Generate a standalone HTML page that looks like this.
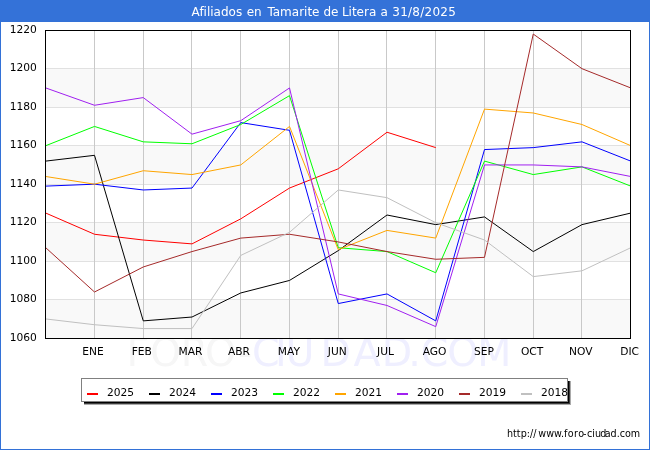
<!DOCTYPE html>
<html lang="es"><head><meta charset="utf-8"><title>Afiliados en Tamarite de Litera a 31/8/2025</title>
<style>
html,body{margin:0;padding:0;background:#fff;}
body{width:650px;height:450px;overflow:hidden;}
svg{display:block;will-change:transform;}
text{font-family:"DejaVu Sans","Liberation Sans",sans-serif;}
</style></head><body>
<svg width="650" height="450" viewBox="0 0 650 450">
<rect x="0" y="0" width="650" height="450" fill="#3371d7"/>
<rect x="1" y="22" width="648" height="427" fill="#ffffff"/>
<rect x="0" y="0" width="650" height="21" fill="#3472d8"/>
<text y="16" font-size="12" fill="#ffffff"><tspan x="191.6">Afiliados</tspan> <tspan x="246.7">en</tspan> <tspan x="267.4">Tamarite</tspan> <tspan x="323.5">de</tspan> <tspan x="341.9">Litera</tspan> <tspan x="380.6">a</tspan> <tspan x="392.3" textLength="63.5">31/8/2025</tspan></text>
<text y="365.5" font-size="39.5" fill="#f6f6f6" x="126.4 150.1 180.7 205 238 252.1 275.1 285.4 320.4 353.5 381.8 408.3 420.8 447.2 477.3">FORO-<tspan fill="#efefff">CIUDAD.COM</tspan></text>
<rect x="45" y="30" width="586" height="309" fill="#ffffff"/>
<rect x="46" y="69" width="585" height="38" fill="#f9f9f9"/>
<rect x="46" y="146" width="585" height="38" fill="#f9f9f9"/>
<rect x="46" y="223" width="585" height="38" fill="#f9f9f9"/>
<rect x="46" y="300" width="585" height="38" fill="#f9f9f9"/>
<g fill="#e1e1e1">
<rect x="46" y="68" width="585" height="1"/>
<rect x="46" y="107" width="585" height="1"/>
<rect x="46" y="145" width="585" height="1"/>
<rect x="46" y="184" width="585" height="1"/>
<rect x="46" y="222" width="585" height="1"/>
<rect x="46" y="261" width="585" height="1"/>
<rect x="46" y="299" width="585" height="1"/>
</g>
<g fill="#c9c9c9">
<rect x="94" y="31" width="1" height="307"/>
<rect x="143" y="31" width="1" height="307"/>
<rect x="191" y="31" width="1" height="307"/>
<rect x="240" y="31" width="1" height="307"/>
<rect x="289" y="31" width="1" height="307"/>
<rect x="338" y="31" width="1" height="307"/>
<rect x="386" y="31" width="1" height="307"/>
<rect x="435" y="31" width="1" height="307"/>
<rect x="484" y="31" width="1" height="307"/>
<rect x="533" y="31" width="1" height="307"/>
<rect x="581" y="31" width="1" height="307"/>
</g>
<g fill="none" stroke-width="1" stroke-linejoin="round">
<polyline stroke="#ff0000" points="45.75,213.07 94.5,234.25 143.25,240.03 192,243.88 240.75,218.85 289.5,188.05 338.25,168.8 387,132.22 435.75,147.62"/>
<polyline stroke="#000000" points="45.75,161.1 94.5,155.32 143.25,320.88 192,317.02 240.75,292.96 289.5,280.45 338.25,250.61 387,215 435.75,224.62 484.5,216.92 533.25,251.57 582,224.62 630.75,213.07"/>
<polyline stroke="#0000ff" points="45.75,186.12 94.5,184.2 143.25,189.97 192,188.05 240.75,122.6 289.5,130.3 338.25,303.55 387,293.93 435.75,320.88 484.5,149.55 533.25,147.62 582,141.85 630.75,161.1"/>
<polyline stroke="#00ff00" points="45.75,145.7 94.5,126.45 143.25,141.85 192,143.78 240.75,124.53 289.5,95.65 338.25,247.72 387,251.57 435.75,272.75 484.5,161.1 533.25,174.57 582,166.88 630.75,186.12"/>
<polyline stroke="#ffa500" points="45.75,176.5 94.5,184.2 143.25,170.72 192,174.57 240.75,164.95 289.5,126.45 338.25,249.65 387,230.4 435.75,238.1 484.5,109.12 533.25,112.98 582,124.53 630.75,145.7"/>
<polyline stroke="#a020f0" points="45.75,87.95 94.5,105.28 143.25,97.58 192,134.15 240.75,120.68 289.5,87.95 338.25,293.93 387,305.48 435.75,326.65 484.5,164.95 533.25,164.95 582,166.88 630.75,176.5"/>
<polyline stroke="#a52a2a" points="45.75,247.72 94.5,292 143.25,266.98 192,251.57 240.75,238.1 289.5,234.25 338.25,241.95 387,251.57 435.75,259.28 484.5,257.35 533.25,34.05 582,68.7 630.75,87.95"/>
<polyline stroke="#c0c0c0" points="45.75,318.95 94.5,324.73 143.25,328.57 192,328.57 240.75,255.42 289.5,232.32 338.25,189.97 387,197.67 435.75,222.7 484.5,240.03 533.25,276.6 582,270.82 630.75,247.72"/>
</g>
<rect x="45.5" y="30.5" width="585" height="308" fill="none" stroke="#000" stroke-width="1" shape-rendering="crispEdges"/>
<g font-size="10.67" fill="#000" text-anchor="end">
<text x="36.8" y="33.1">1220</text>
<text x="36.8" y="71.1">1200</text>
<text x="36.8" y="110.1">1180</text>
<text x="36.8" y="148.1">1160</text>
<text x="36.8" y="187.1">1140</text>
<text x="36.8" y="225.1">1120</text>
<text x="36.8" y="264.1">1100</text>
<text x="36.8" y="302.1">1080</text>
<text x="36.8" y="341.1">1060</text>
</g>
<g font-size="10.67" fill="#000" text-anchor="middle">
<text x="93.05" y="355">ENE</text>
<text x="141.8" y="355">FEB</text>
<text x="190.55" y="355">MAR</text>
<text x="238.9" y="355">ABR</text>
<text x="288.95" y="355">MAY</text>
<text x="337.2" y="355">JUN</text>
<text x="385.55" y="355">JUL</text>
<text x="434.5" y="355">AGO</text>
<text x="484.05" y="355">SEP</text>
<text x="532.1" y="355">OCT</text>
<text x="580.85" y="355">NOV</text>
<text x="629.6" y="355">DIC</text>
</g>
<rect x="84" y="381" width="487" height="24" fill="#aaaaaa"/>
<rect x="84" y="381" width="486" height="23" fill="#3c3c3c"/>
<rect x="84" y="381" width="485" height="22" fill="#000"/>
<rect x="81.5" y="378.5" width="486" height="23" fill="#fff" stroke="#808080" stroke-width="1" shape-rendering="crispEdges"/>
<g font-size="10.67" fill="#000">
<rect x="87" y="393" width="11" height="2" fill="#ff0000"/>
<text x="107" y="396">2025</text>
<rect x="149" y="393" width="11" height="2" fill="#000000"/>
<text x="169" y="396">2024</text>
<rect x="211" y="393" width="11" height="2" fill="#0000ff"/>
<text x="231" y="396">2023</text>
<rect x="273" y="393" width="11" height="2" fill="#00ff00"/>
<text x="293" y="396">2022</text>
<rect x="335" y="393" width="11" height="2" fill="#ffa500"/>
<text x="355" y="396">2021</text>
<rect x="397" y="393" width="11" height="2" fill="#a020f0"/>
<text x="417" y="396">2020</text>
<rect x="459" y="393" width="11" height="2" fill="#a52a2a"/>
<text x="479" y="396">2019</text>
<rect x="521" y="393" width="11" height="2" fill="#c0c0c0"/>
<text x="541" y="396">2018</text>
</g>
<text x="507" y="437" font-size="9.6" fill="#000" dx="0 0 0 0 0 0 0 1.91 0 0 0 0 0.38 0.38 0.38 -1.2 0.53 0 0 -0.83 -1.73 0 0 0 0 0">http://www.foro-ciudad.com</text>
</svg>
</body></html>
